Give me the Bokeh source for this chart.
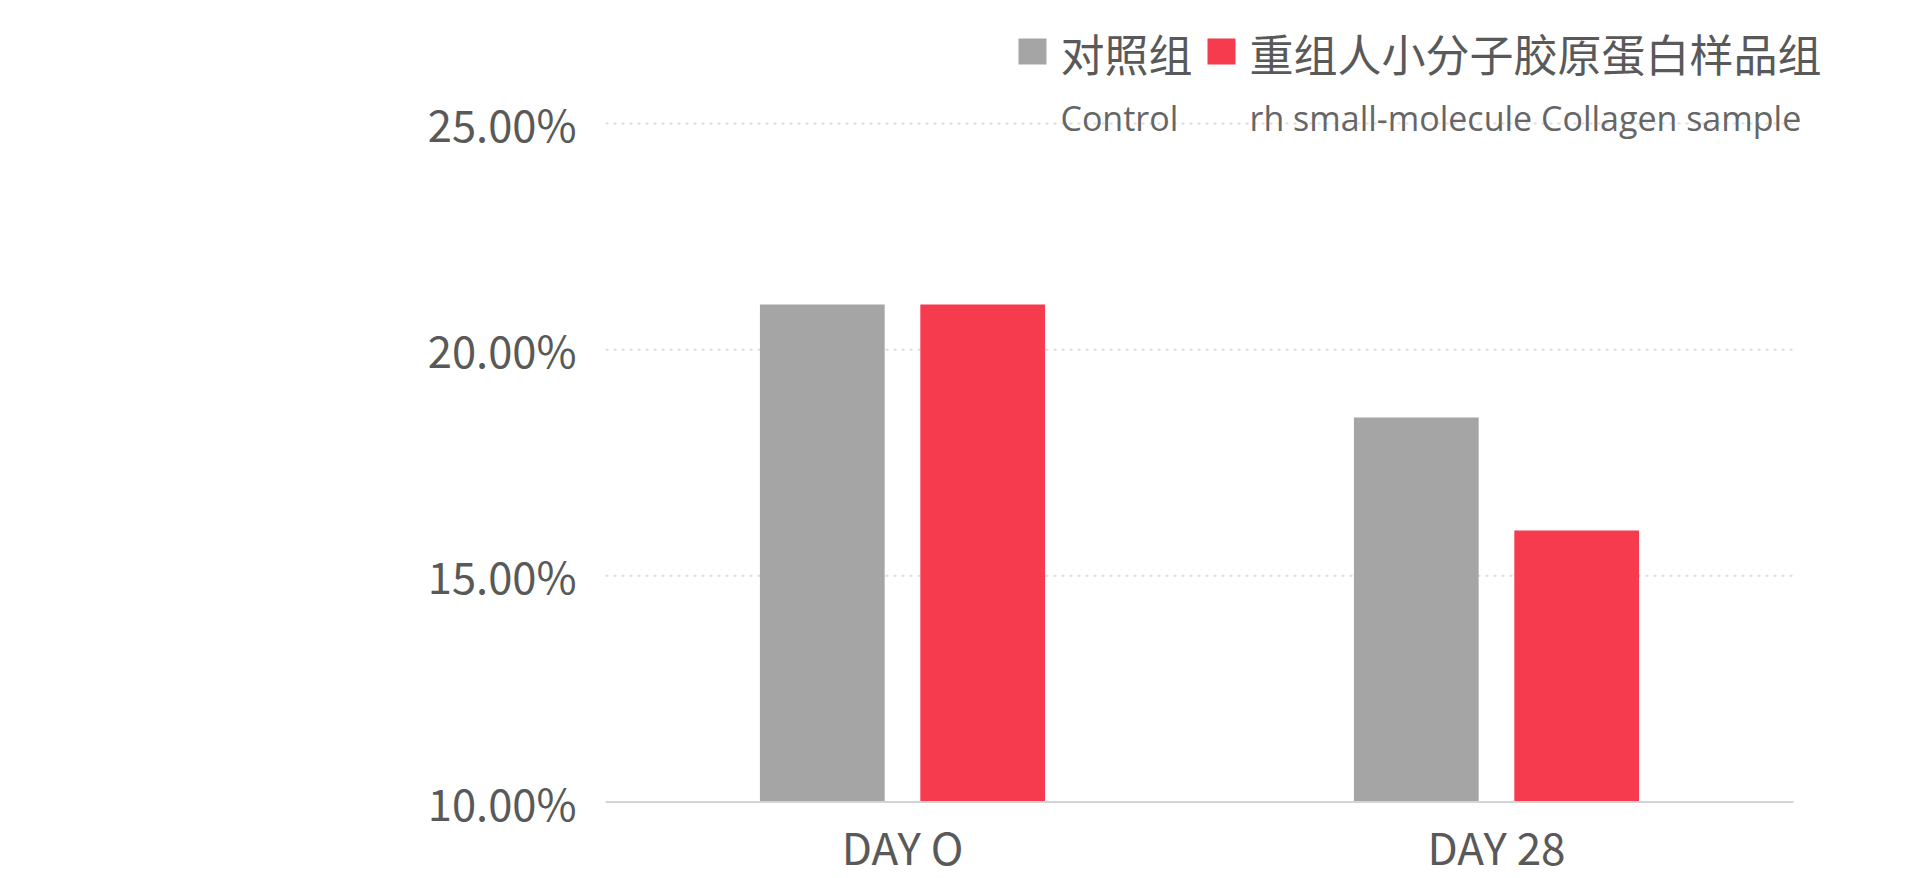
from bokeh.plotting import figure
from bokeh.models import ColumnDataSource, Range1d, FixedTicker, Label, BoxAnnotation
from bokeh.transform import dodge
from bokeh.core.properties import value
from bokeh.embed import file_html
from bokeh.resources import INLINE

# ---- data ----
days = ["DAY O", "DAY 28"]
control = [21.0, 18.5]
sample = [21.0, 16.0]
y_ticks = [10, 15, 20, 25]
y_tick_labels = ["10.00%", "15.00%", "20.00%", "25.00%"]
legend_cn = ["对照组", "重组人小分子胶原蛋白样品组"]
legend_en = ["Control", "rh small-molecule Collagen sample"]
colors = ["#a5a5a5", "#f63b4f"]

# ---- layout (screen px) ----
W, H = 1900, 878
FL = 605                        # frame left
X1_S = 1793.0                   # right end of category span
Y10_S, Y25_S = 801.5, 123.0     # 10% and 25% gridlines
XLAB_BASE = 845.0               # anchor of category labels
unit = (X1_S - FL) / len(days)
pxper = (Y10_S - Y25_S) / (y_ticks[-1] - y_ticks[0])

x_end = (W - FL) / unit
y_start = y_ticks[0] - (H - Y10_S) / pxper
y_end = y_ticks[-1] + Y25_S / pxper
y_lab = y_ticks[0] - (XLAB_BASE - Y10_S) / pxper

xi = [i + 0.5 for i in range(len(days))]
src = ColumnDataSource(dict(xi=xi, day=days, control=control, sample=sample))

p = figure(width=W, height=H, x_range=Range1d(0, x_end), y_range=Range1d(y_start, y_end),
           output_backend="svg", toolbar_location=None,
           min_border_left=FL, min_border_right=0, min_border_top=0, min_border_bottom=0)
p.background_fill_color = "white"
p.border_fill_color = "white"
p.outline_line_color = None

# gridlines limited to the category span
p.xgrid.visible = False
p.ygrid.visible = False
p.segment(x0=[0] * len(y_ticks), x1=[len(days)] * len(y_ticks), y0=y_ticks, y1=y_ticks,
          line_color="#dedede", line_width=2, line_dash="3 5")

p.vbar(x=dodge("xi", -0.135), top="control", bottom=y_ticks[0], width=0.21,
       source=src, fill_color=colors[0], line_color=None)
p.vbar(x=dodge("xi", 0.135), top="sample", bottom=y_ticks[0], width=0.21,
       source=src, fill_color=colors[1], line_color=None)

# baseline (x axis line at 10%)
p.segment(x0=[0], x1=[len(days)], y0=[y_ticks[0]], y1=[y_ticks[0]],
          line_color="#d4d4d4", line_width=2)

# category labels under the baseline
p.text(x="xi", y=value(y_lab), text="day", source=src,
       text_font=value("Noto Sans CJK SC"), text_font_size="44px", text_color="#595959",
       text_align="center", text_baseline="alphabetic")
p.xaxis.visible = False

# y axis
p.yaxis.ticker = FixedTicker(ticks=y_ticks)
p.yaxis.major_label_overrides = {t: l for t, l in zip(y_ticks, y_tick_labels)}
p.yaxis.axis_line_color = None
p.yaxis.major_tick_line_color = None
p.yaxis.minor_tick_line_color = None
p.yaxis.major_tick_out = 0
p.yaxis.major_label_standoff = 29
p.yaxis.major_label_text_font = "Noto Sans CJK SC"
p.yaxis.major_label_text_font_size = "43.5px"
p.yaxis.major_label_text_color = "#595959"

# legend (screen units relative to frame: x from frame left, y up from frame bottom)
def sx(X):
    return X - FL

def sy(Y):
    return H - Y

sq = [(1018, 1046, 38, 64), (1207, 1235, 38, 64)]
for (l, r, t, b), c in zip(sq, colors):
    p.add_layout(BoxAnnotation(left=sx(l), right=sx(r), top=sy(t), bottom=sy(b),
                               left_units="screen", right_units="screen",
                               top_units="screen", bottom_units="screen",
                               fill_color=c, fill_alpha=1, line_color=None))

for X, txt in zip([1060, 1249], legend_cn):
    p.add_layout(Label(x=sx(X), y=sy(52), x_units="screen", y_units="screen", text=txt,
                       text_font="Noto Sans CJK SC", text_font_size="44px",
                       text_color="#595959", text_baseline="middle", text_align="left"))
for X, txt in zip([1060, 1249], legend_en):
    p.add_layout(Label(x=sx(X), y=sy(117), x_units="screen", y_units="screen", text=txt,
                       text_font="Open Sans", text_font_size="34px",
                       text_color="#666666", text_baseline="alphabetic", text_align="left"))

open("out.html", "w").write(file_html(p, INLINE))
